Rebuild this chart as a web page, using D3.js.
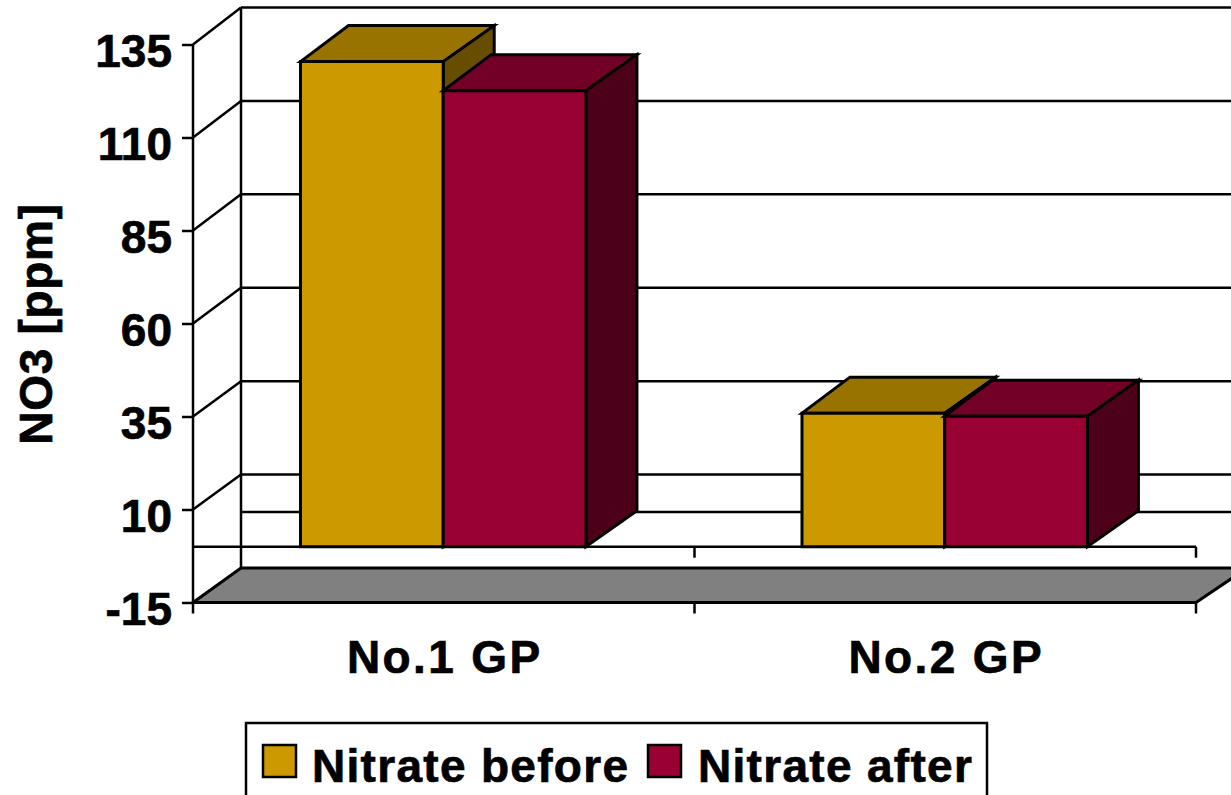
<!DOCTYPE html>
<html>
<head>
<meta charset="utf-8">
<script src="https://cdn.jsdelivr.net/npm/d3@7"></script>
<style>
  html, body { margin: 0; background: #fff; overflow: hidden; }
  text { font-family: "Liberation Sans", Arial, sans-serif; font-weight: bold; font-size: 46px; fill: #000; stroke: #000; stroke-width: 0.7px; }
  .axis text { font-family: "Liberation Sans", Arial, sans-serif; font-size: 46px; }
  .axis line, .axis path { stroke: #000; stroke-width: 2.5; }
</style>
</head>
<body>
<div id="chart"></div>
<script>
// values
var categories = ["No.1 GP", "No.2 GP"];
var seriesNames = ["Nitrate before", "Nitrate after"];
var nitrateBefore = [130.4, 35.9];
var nitrateAfter = [122.6, 35.1];
var yTicks = [-15, 10, 35, 60, 85, 110, 135];

var faceColors = ["#CC9900", "#990033"];
var topColors = ["#997300", "#730026"];
var sideColors = ["#664D00", "#4D001A"];

var width = 1231, height = 795;
var stroke = 2.5;

var svg = d3.select("#chart").append("svg")
  .attr("width", width)
  .attr("height", height)
  .style("display", "block");

// front plane and back wall of the 3d box
var y = d3.scaleLinear().domain([-15, 135]).range([602.5, 44.5]);
var yBack = d3.scaleLinear().domain([-15, 135]).range([568, 7.5]);
var x0 = d3.scaleBand().domain(categories).range([193, 1196]);
var x1 = d3.scaleBand().domain(d3.range(seriesNames.length))
  .range([0, x0.bandwidth()])
  .paddingInner(0)
  .paddingOuter(0.757)
  .align(0.4975);

var wallX = 241, depthLeft = 48, depthRight = 51, depthY = 36;

function line(g, x1, y1, x2, y2, w) {
  return g.append("line")
    .attr("x1", x1).attr("y1", y1).attr("x2", x2).attr("y2", y2)
    .attr("stroke", "#000").attr("stroke-width", w || stroke);
}

function poly(g, points, fill) {
  return g.append("polygon")
    .attr("points", points.map(function(p) { return p.join(","); }).join(" "))
    .attr("fill", fill)
    .attr("stroke", "#000")
    .attr("stroke-width", stroke + 0.5)
    .attr("stroke-linejoin", "miter");
}

// back wall gridlines and the diagonals on the side wall
var grid = svg.append("g");
yTicks.slice(1).forEach(function(v) {
  line(grid, 193, y(v), wallX, yBack(v));
  line(grid, wallX, yBack(v), width, yBack(v));
});
line(grid, wallX, yBack(0), width, yBack(0));
line(grid, wallX, yBack(-15), wallX, yBack(135));

// floor
poly(svg.append("g"), [
  [x0.range()[0], y(-15)],
  [wallX, yBack(-15)],
  [x0.range()[1] + depthRight, yBack(-15)],
  [x0.range()[1], y(-15)]
], "#808080");

// zero plane line with its small ticks
var zero = svg.append("g");
line(zero, 193, y(0), x0.range()[1], y(0));
[x0.range()[0] + x0.step(), x0.range()[1]].forEach(function(v) {
  line(zero, v, y(0), v, y(0) + 11);
});

// axes
var yAxis = d3.axisLeft(y).tickValues(yTicks).tickFormat(String)
  .tickSize(11).tickPadding(10).tickSizeOuter(0);
var yG = svg.append("g").attr("class", "axis")
  .attr("transform", "translate(193,0)")
  .call(yAxis);
yG.select(".domain").attr("d", "M0," + y(135) + "V" + (y(-15) + 11));
yG.selectAll("text").attr("dy", "0.47em").attr("fill", "#000");

var xAxis = d3.axisBottom(x0).tickSize(0).tickPadding(0);
var xG = svg.append("g").attr("class", "axis")
  .attr("transform", "translate(0," + y(-15) + ")")
  .call(xAxis);
xG.select(".domain").attr("d", "M193,0H1196");
xG.selectAll("text")
  .attr("fill", "#000")
  .attr("dy", 0)
  .attr("y", 70)
  .attr("x", 1)
  .style("letter-spacing", "2.4px");
[x0.range()[0] + x0.step(), x0.range()[1]].forEach(function(v) {
  line(xG, v, 0, v, 11);
});

// bars, front one of each pair first so the next bar covers its side
var series = [nitrateBefore, nitrateAfter];
categories.forEach(function(cat, c) {
  var g = svg.append("g").attr("class", "group");
  series.forEach(function(values, s) {
    var left = x0(cat) + x1(s), right = left + x1.bandwidth();
    var top = y(values[c]), bottom = y(0);
    poly(g, [[left, top], [left + depthLeft, top - depthY], [right + depthRight, top - depthY], [right, top]], topColors[s]);
    poly(g, [[right, top], [right + depthRight, top - depthY], [right + depthRight, bottom - depthY], [right, bottom]], sideColors[s]);
    poly(g, [[left, top], [right, top], [right, bottom], [left, bottom]], faceColors[s]);
  });
});

// y axis title
svg.append("text")
  .attr("transform", "translate(52,324) rotate(-90)")
  .attr("text-anchor", "middle")
  .style("letter-spacing", "0.7px")
  .text("NO3 [ppm]");

// legend, its box runs off the bottom of the picture
var legend = svg.append("g");
legend.append("rect")
  .attr("x", 246).attr("y", 723)
  .attr("width", 741).attr("height", 100)
  .attr("fill", "#fff").attr("stroke", "#000").attr("stroke-width", stroke);
var swatchX = [263, 648], labelX = [312, 698];
seriesNames.forEach(function(name, i) {
  legend.append("rect")
    .attr("x", swatchX[i]).attr("y", 745)
    .attr("width", 33).attr("height", 32)
    .attr("fill", faceColors[i]).attr("stroke", "#000").attr("stroke-width", stroke);
  legend.append("text")
    .attr("x", labelX[i]).attr("y", 782)
    .style("letter-spacing", "1.3px")
    .text(name);
});
</script>
</body>
</html>
